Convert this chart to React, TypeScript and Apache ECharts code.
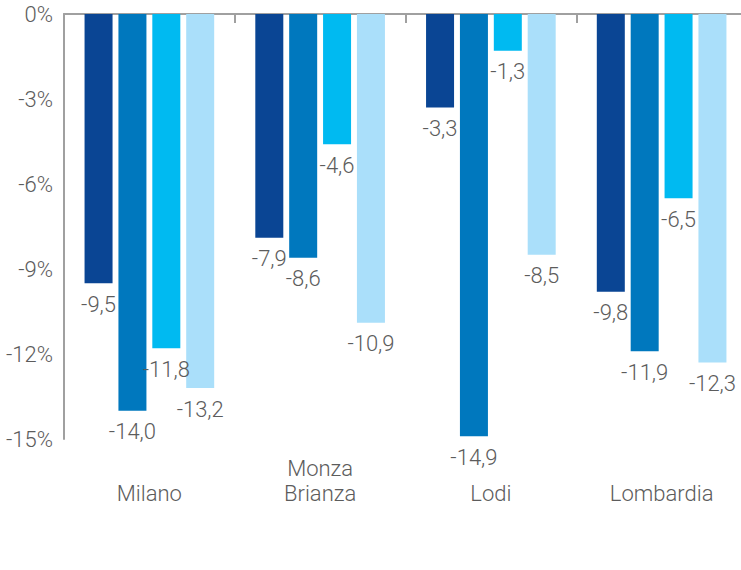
import React, { useEffect, useRef } from "react";
import * as echarts from "echarts";

// Provinces (category axis)
const categories = ["Milano", "Monza\nBrianza", "Lodi", "Lombardia"];

// Percentage changes per province, one array per series
const seriesA = [-9.5, -7.9, -3.3, -9.8];
const seriesB = [-14.0, -8.6, -14.9, -11.9];
const seriesC = [-11.8, -4.6, -1.3, -6.5];
const seriesD = [-13.2, -10.9, -8.5, -12.3];

const seriesColors = ["#0A4594", "#0078BE", "#00BAF1", "#AADFFA"];

const yMin = -15;
const yMax = 0;
const yStep = 3;

const FONT = "Roboto, 'Liberation Sans', sans-serif";
const TEXT = "#5c5c5c";
const AXIS = "#a0a0a0";

export default function App() {
  const ref = useRef<HTMLDivElement>(null);

  useEffect(() => {
    if (!ref.current) return;
    const chart = echarts.init(ref.current, null, { renderer: "svg" });

    const makeSeries = (data: number[], color: string) => ({
      type: "bar",
      data,
      barWidth: 28,
      barGap: "21%",
      itemStyle: { color },
      label: {
        show: true,
        position: "bottom",
        distance: 10,
        color: TEXT,
        fontFamily: FONT,
        fontWeight: 300,
        fontSize: 22,
        formatter: (p: any) => Number(p.value).toFixed(1).replace(".", ","),
      },
    });

    chart.setOption({
      animation: false,
      grid: { left: 64, right: 0, top: 14, bottom: 131, containLabel: false },
      xAxis: [
        {
          type: "category",
          data: categories,
          position: "top",
          axisLine: { show: true, onZero: false, lineStyle: { color: AXIS, width: 2 } },
          axisTick: { show: true, inside: true, length: 9, lineStyle: { color: AXIS, width: 2 } },
          axisLabel: { show: false },
          splitLine: { show: false },
        },
        {
          type: "category",
          data: categories,
          position: "bottom",
          axisLine: { show: false, onZero: false },
          axisTick: { show: false },
          axisLabel: {
            show: true,
            margin: 67,
            verticalAlign: "bottom",
            lineHeight: 25,
            color: TEXT,
            fontFamily: FONT,
            fontWeight: 300,
            fontSize: 22,
          },
        },
      ],
      yAxis: {
        type: "value",
        min: yMin,
        max: yMax,
        interval: yStep,
        axisLine: { show: true, lineStyle: { color: AXIS, width: 2 } },
        axisTick: { show: false },
        splitLine: { show: false },
        axisLabel: {
          margin: 11,
          color: TEXT,
          fontFamily: FONT,
          fontWeight: 300,
          fontSize: 22,
          padding: [7, 0, 0, 0],
          formatter: (v: number) => `${v}%`,
        },
      },
      series: [
        makeSeries(seriesA, seriesColors[0]),
        makeSeries(seriesB, seriesColors[1]),
        makeSeries(seriesC, seriesColors[2]),
        makeSeries(seriesD, seriesColors[3]),
      ],
    });

    return () => chart.dispose();
  }, []);

  return (
    <div
      style={{
        position: "absolute",
        left: 0,
        top: 0,
        width: 741,
        height: 570,
        overflow: "hidden",
      }}
    >
      <div ref={ref} style={{ width: 747, height: 570 }} />
    </div>
  );
}
